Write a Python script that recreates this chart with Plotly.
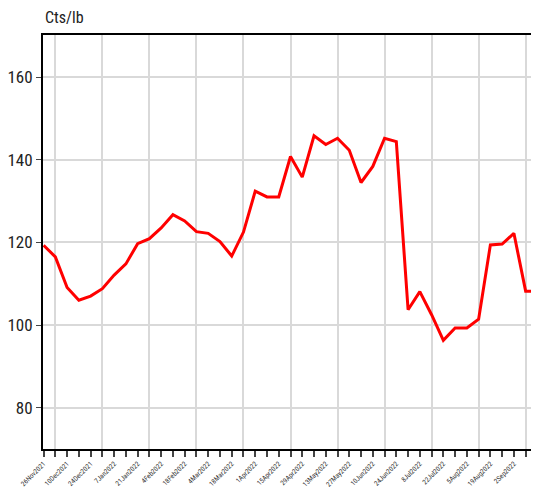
import pandas as pd
import plotly.graph_objects as go

# weekly prices, cents per lb
dates = pd.date_range("2021-11-26", periods=43, freq="7D")
prices = [119.3, 116.5, 109.1, 106.0, 107.0, 108.8, 112.1, 114.8, 119.7, 120.9,
          123.5, 126.7, 125.2, 122.6, 122.2, 120.2, 116.7, 122.5, 132.4, 131.0,
          131.0, 140.8, 135.8, 145.8, 143.7, 145.2, 142.3, 134.5, 138.4, 145.2,
          144.4, 103.7, 108.1, 102.5, 96.3, 99.3, 99.3, 101.4, 119.4, 119.6,
          122.2, 108.2, 108.2]
y_ticks = [80, 100, 120, 140, 160]

idx = list(range(len(dates)))
labels = ["{}{}".format(d.day, d.strftime("%b%Y")) if i % 2 == 0 else "" for i, d in enumerate(dates)]
grid_pos = idx[1::4]

font = "Liberation Sans Narrow, Arial Narrow, Roboto Condensed, Liberation Sans, sans-serif"

fig = go.Figure()
fig.add_trace(go.Scatter(x=idx, y=prices, mode="lines",
                         line=dict(color="#ff0000", width=3), showlegend=False))
fig.add_trace(go.Scatter(x=[], y=[], xaxis="x2", showlegend=False))

# page body has an 8px margin, so the figure is drawn 8px smaller
fig.update_layout(
    width=531, height=481,
    margin=dict(l=35, r=1, t=27, b=40),
    plot_bgcolor="white", paper_bgcolor="white",
    font=dict(family=font, color="#222222"),
    xaxis=dict(range=[-0.05, 42.05], tickmode="array", tickvals=idx, ticktext=labels,
               tickangle=-45, tickfont=dict(size=7, color="#333333"),
               ticks="outside", ticklen=6, tickcolor="#444444", tickwidth=2,
               showgrid=False, zeroline=False,
               showline=True, linecolor="black", linewidth=2, mirror=True,
               automargin=False),
    xaxis2=dict(range=[-0.05, 42.05], overlaying="x", matches="x", tickmode="array",
                tickvals=grid_pos, showticklabels=False, ticks="",
                showgrid=True, gridcolor="#d9d9d9", gridwidth=1.5, zeroline=False),
    yaxis=dict(range=[70, 170.2], tickmode="array", tickvals=y_ticks,
               tickfont=dict(size=17, color="#222222"),
               ticks="outside", ticklen=5, tickcolor="#444444",
               showgrid=True, gridcolor="#d9d9d9", gridwidth=1.5, zeroline=False,
               showline=True, linecolor="black", linewidth=2, mirror=True,
               automargin=False),
)
fig.add_annotation(text="Cts/lb", xref="paper", yref="paper", x=0, y=1,
                   xanchor="left", yanchor="bottom", yshift=6, showarrow=False,
                   font=dict(size=16, family=font, color="#222222"))

fig.write_html("out.html")
